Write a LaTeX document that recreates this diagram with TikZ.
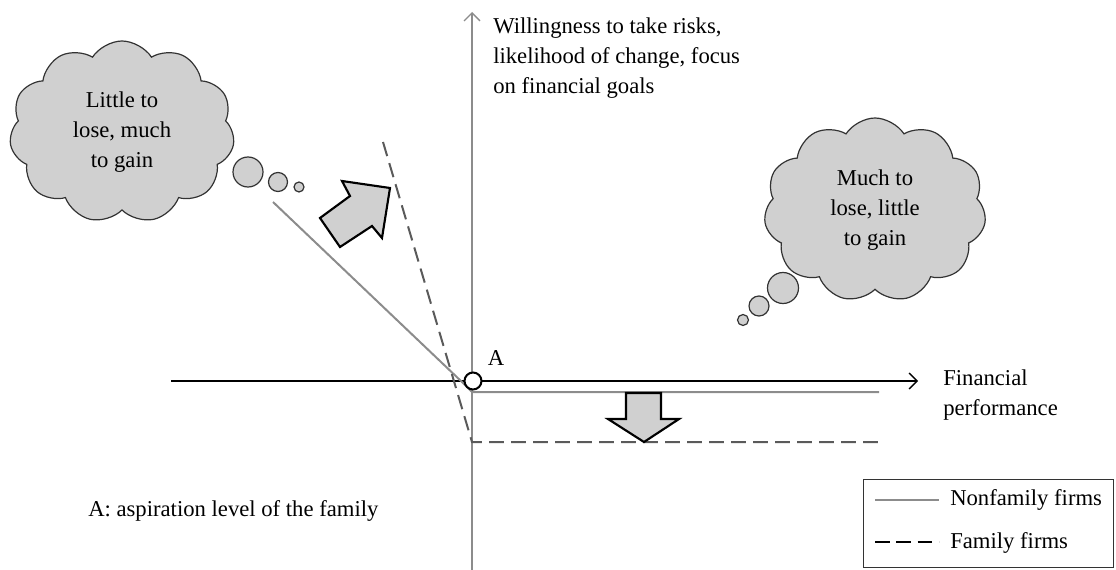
\documentclass[tikz,border=0pt]{standalone}
\usepackage{fontspec}
\setmainfont{Liberation Serif}
\usetikzlibrary{arrows.meta,shapes.symbols}
\definecolor{cloudgray}{RGB}{208,208,208}
\definecolor{linegray}{RGB}{140,140,140}
\definecolor{dashgray}{RGB}{90,90,90}
\begin{document}
\begin{tikzpicture}[x=0.75pt,y=-0.75pt,
  txt/.style={font=\fontsize{17}{22.5}\selectfont, inner sep=0pt},
  thought/.style={cloud, cloud puffs=11, cloud puff arc=115, cloud ignores aspect, draw=black!80, line width=0.9pt, fill=cloudgray, align=center, inner sep=0pt, font=\fontsize{17}{22.5}\selectfont},
  bubble/.style={circle, draw=black!80, line width=0.9pt, fill=cloudgray, inner sep=0pt},
  axisarrow/.style={-{Straight Barb[length=6pt,width=12pt,line width=1pt]}},
  nonfam/.style={draw=linegray, line width=1.5pt},
  fam/.style={draw=dashgray, line width=1.5pt, dash pattern=on 11pt off 5.5pt},
  blockarrow/.style={draw=black, line width=1.6pt, fill=cloudgray, line join=miter}
]
\useasboundingbox (0,0) rectangle (1116,570);

% axes
\coordinate (ybot) at (472,570);
\coordinate (ytop) at (472,12);
\coordinate (xleft) at (171,381);
\coordinate (xright) at (918,381);
\draw[axisarrow, draw=linegray, line width=1.5pt] (ybot) -- (ytop);
\draw[axisarrow, draw=black, line width=1.5pt] (xleft) -- (xright);

% nonfamily firms
\coordinate (n1) at (273,202);
\coordinate (n2) at (472,392);
\coordinate (n3) at (879,392);
\draw[nonfam] (n1) -- (462,382) -- (n2) -- (n3);

% family firms
\coordinate (f1) at (383,142);
\coordinate (f3) at (879,442);
\draw[fam] (f1) -- (472,442) -- (f3);

% point A
\node[circle, draw=black, line width=1.5pt, fill=white, minimum size=17*0.75pt, inner sep=0pt] (A) at (473,381) {};
\node[txt] (Alab) at (496,358) {A};

% block arrow diagonal
\draw[blockarrow] (320,218) -- (350,196) -- (342,181) -- (390,188) -- (382,238) -- (372,226) -- (340,247) -- cycle;

% block arrow down
\draw[blockarrow] (626,393) -- (661,393) -- (661,419) -- (679,419) -- (644,442) -- (608,419) -- (626,419) -- cycle;

% labels
\node[txt, anchor=north west, align=left] (ylab) at (493,17.5) {Willingness to take risks,\\likelihood of change, focus\\on financial goals};
\node[txt, anchor=north west, align=left] (xlab) at (943,369.5) {Financial\\performance};
\node[txt, anchor=base west] (alabel) at (88,516) {A: aspiration level of the family};

% thought clouds
\node[thought, minimum width=225*0.75pt, minimum height=182*0.75pt] (c1) at (122,132) {Little to\\lose, much\\to gain};
\node[bubble, minimum size=30*0.75pt] (b11) at (248,172) {};
\node[bubble, minimum size=19*0.75pt] (b12) at (278,182) {};
\node[bubble, minimum size=10*0.75pt] (b13) at (299,187) {};

\node[thought, minimum width=222*0.75pt, minimum height=184*0.75pt] (c2) at (875,210) {Much to\\lose, little\\to gain};
\node[bubble, minimum size=31*0.75pt] (b21) at (783,288) {};
\node[bubble, minimum size=20*0.75pt] (b22) at (759,306) {};
\node[bubble, minimum size=11*0.75pt] (b23) at (743,320) {};

% legend
\node[draw=black!80, line width=1pt, minimum width=250*0.75pt, minimum height=88*0.75pt, anchor=north west, inner sep=0pt] (leg) at (863,479) {};
\coordinate (l1a) at (875,500);
\coordinate (l1b) at (939,500);
\coordinate (l2a) at (875,542);
\coordinate (l2b) at (939,542);
\draw[nonfam] (l1a) -- (l1b);
\draw[draw=black, line width=1.5pt, dash pattern=on 11pt off 5pt] (l2a) -- (l2b);
\node[txt, anchor=base west] (leg1) at (950,505) {Nonfamily firms};
\node[txt, anchor=base west] (leg2) at (950,548) {Family firms};
\end{tikzpicture}
\end{document}
